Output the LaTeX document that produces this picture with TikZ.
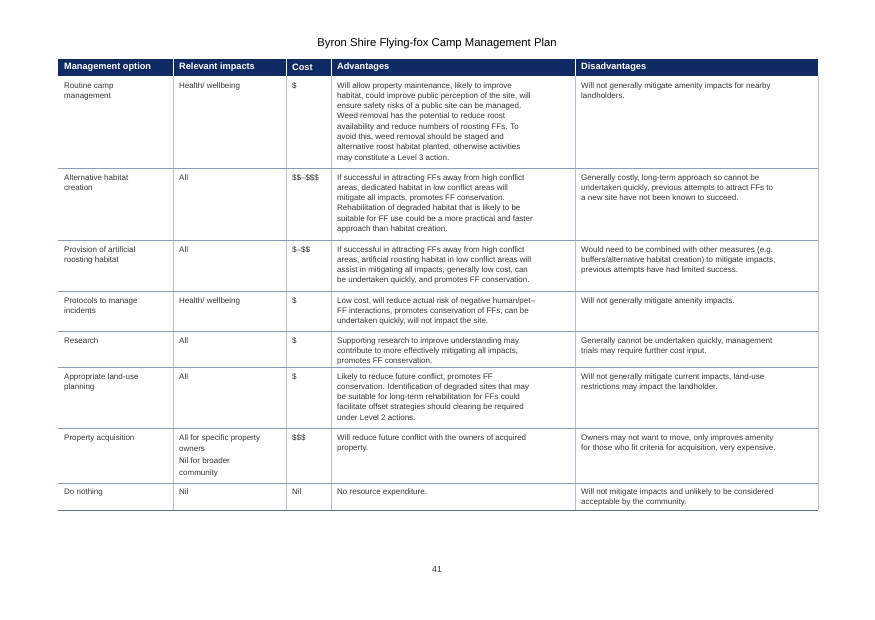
\documentclass[tikz,border=0pt]{standalone}
\usepackage{fontspec}
\setmainfont{Liberation Sans}
\definecolor{navy}{HTML}{102A66}
\definecolor{rowline}{HTML}{8A9CC4}
\definecolor{vline}{HTML}{B8C0D0}
\definecolor{txt}{HTML}{333333}
\begin{document}
\begin{tikzpicture}[x=1pt,y=-1pt,
  cell/.style={anchor=north west,inner sep=0pt,align=left,font=\fontsize{8}{10.3}\selectfont,text=txt},
  head/.style={anchor=west,inner sep=0pt,font=\fontsize{9.2}{10}\selectfont\bfseries,text=white}]
\useasboundingbox (0,0) rectangle (875,619);
\node (title) at (437,44) {\fontsize{11.3}{12}\selectfont Byron Shire Flying-fox Camp Management Plan};
\fill[navy] (58,59) rectangle (818,76);
\foreach \x in {173,286,331,575} \draw[white,line width=0.6pt] (\x,59) -- (\x,76);
\foreach \x in {173,286,331,575} \draw[vline,line width=0.6pt] (\x,76) -- (\x,510);
\foreach \y in {168,240,291,331,367,428,483} \draw[rowline,line width=0.8pt] (58,\y) -- (818,\y);
\draw[rowline!70!black,line width=0.9pt] (58,510) -- (818,510);
\draw[vline,line width=0.6pt] (818,76) -- (818,510);
\node[head] (h1) at (64,67.5) {Management option};
\node[head] (h2) at (179,67.5) {Relevant impacts};
\node[head] (h3) at (292,67.5) {Cost};
\node[head] (h4) at (337,67.5) {Advantages};
\node[head] (h5) at (581,67.5) {Disadvantages};
% row 1
\node[cell] (a1) at (64,82) {Routine camp\\management};
\node[cell] (b1) at (179,82) {Health/ wellbeing};
\node[cell] (c1) at (292,82) {\$};
\node[cell] (d1) at (337,82) {Will allow property maintenance, likely to improve\\habitat, could improve public perception of the site, will\\ensure safety risks of a public site can be managed.\\Weed removal has the potential to reduce roost\\availability and reduce numbers of roosting FFs. To\\avoid this, weed removal should be staged and\\alternative roost habitat planted, otherwise activities\\may constitute a Level 3 action.};
\node[cell] (e1) at (581,82) {Will not generally mitigate amenity impacts for nearby\\landholders.};
% row 2
\node[cell] (a2) at (64,174) {Alternative habitat\\creation};
\node[cell] (b2) at (179,174) {All};
\node[cell] (c2) at (292,174) {\$\$--\$\$\$};
\node[cell] (d2) at (337,174) {If successful in attracting FFs away from high conflict\\areas, dedicated habitat in low conflict areas will\\mitigate all impacts, promotes FF conservation.\\Rehabilitation of degraded habitat that is likely to be\\suitable for FF use could be a more practical and faster\\approach than habitat creation.};
\node[cell] (e2) at (581,174) {Generally costly, long-term approach so cannot be\\undertaken quickly, previous attempts to attract FFs to\\a new site have not been known to succeed.};
% row 3
\node[cell] (a3) at (64,246) {Provision of artificial\\roosting habitat};
\node[cell] (b3) at (179,246) {All};
\node[cell] (c3) at (292,246) {\$--\$\$};
\node[cell] (d3) at (337,246) {If successful in attracting FFs away from high conflict\\areas, artificial roosting habitat in low conflict areas will\\assist in mitigating all impacts, generally low cost, can\\be undertaken quickly, and promotes FF conservation.};
\node[cell] (e3) at (581,246) {Would need to be combined with other measures (e.g.\\buffers/alternative habitat creation) to mitigate impacts,\\previous attempts have had limited success.};
% row 4
\node[cell] (a4) at (64,297) {Protocols to manage\\incidents};
\node[cell] (b4) at (179,297) {Health/ wellbeing};
\node[cell] (c4) at (292,297) {\$};
\node[cell] (d4) at (337,297) {Low cost, will reduce actual risk of negative human/pet--\\FF interactions, promotes conservation of FFs, can be\\undertaken quickly, will not impact the site.};
\node[cell] (e4) at (581,297) {Will not generally mitigate amenity impacts.};
% row 5
\node[cell] (a5) at (64,337) {Research};
\node[cell] (b5) at (179,337) {All};
\node[cell] (c5) at (292,337) {\$};
\node[cell] (d5) at (337,337) {Supporting research to improve understanding may\\contribute to more effectively mitigating all impacts,\\promotes FF conservation.};
\node[cell] (e5) at (581,337) {Generally cannot be undertaken quickly, management\\trials may require further cost input.};
% row 6
\node[cell] (a6) at (64,373) {Appropriate land-use\\planning};
\node[cell] (b6) at (179,373) {All};
\node[cell] (c6) at (292,373) {\$};
\node[cell] (d6) at (337,373) {Likely to reduce future conflict, promotes FF\\conservation. Identification of degraded sites that may\\be suitable for long-term rehabilitation for FFs could\\facilitate offset strategies should clearing be required\\under Level 2 actions.};
\node[cell] (e6) at (581,373) {Will not generally mitigate current impacts, land-use\\restrictions may impact the landholder.};
% row 7
\node[cell] (a7) at (64,434) {Property acquisition};
\node[cell,font=\fontsize{8}{11.8}\selectfont] (b7) at (179,434) {All for specific property\\owners\\Nil for broader\\community};
\node[cell] (c7) at (292,434) {\$\$\$};
\node[cell] (d7) at (337,434) {Will reduce future conflict with the owners of acquired\\property.};
\node[cell] (e7) at (581,434) {Owners may not want to move, only improves amenity\\for those who fit criteria for acquisition, very expensive.};
% row 8
\node[cell] (a8) at (64,488) {Do nothing};
\node[cell] (b8) at (179,488) {Nil};
\node[cell] (c8) at (292,488) {Nil};
\node[cell] (d8) at (337,488) {No resource expenditure.};
\node[cell] (e8) at (581,488) {Will not mitigate impacts and unlikely to be considered\\acceptable by the community.};
\node[font=\fontsize{8.6}{10}\selectfont,text=txt] (pg) at (437,570) {41};
\end{tikzpicture}
\end{document}
